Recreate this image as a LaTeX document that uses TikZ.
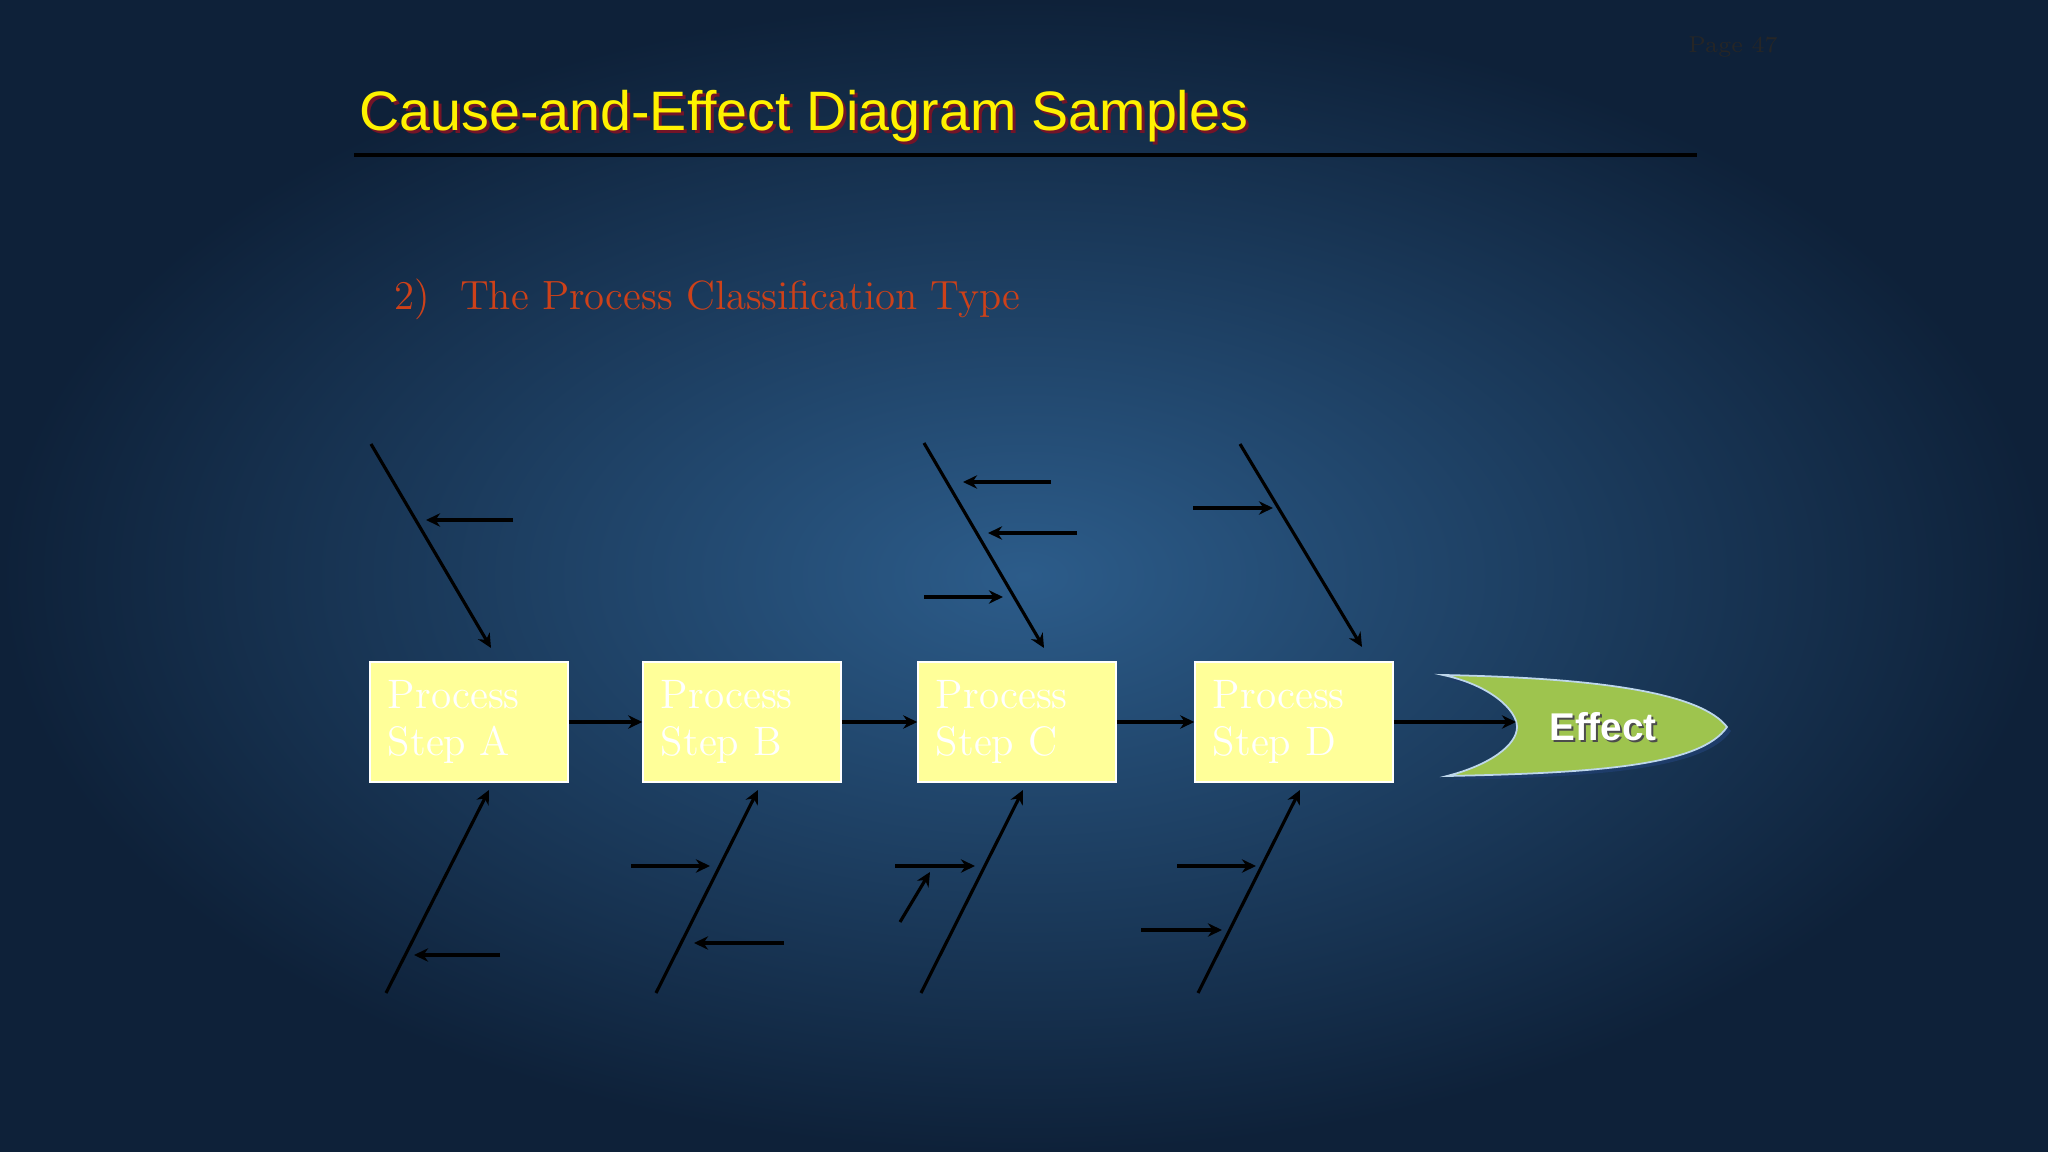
\documentclass[tikz,border=0pt]{standalone}
\usepackage{fontspec}
\newfontfamily\arialfont{Liberation Sans}
\usetikzlibrary{arrows.meta, positioning}

\definecolor{bginner}{RGB}{44,92,138}
\definecolor{bgouter}{RGB}{14,33,57}
\definecolor{stepfill}{RGB}{255,255,153}
\definecolor{effectgreen}{RGB}{158,196,78}
\definecolor{effectedge}{RGB}{190,215,235}
\definecolor{effectshade}{RGB}{30,60,105}
\definecolor{subred}{RGB}{205,65,25}
\definecolor{titleshadow}{RGB}{115,20,40}

\begin{document}
\begin{tikzpicture}[x=0.01cm, y=-0.01cm,
    stepbox/.style={draw=white, line width=0.4pt, fill=stepfill, text=white,
        minimum width=1.98cm, minimum height=1.2cm, text width=1.62cm,
        inner sep=0.18cm, align=left, font=\fontsize{11.7}{13.6}\selectfont},
    bone/.style={line width=0.9pt, -{Stealth[length=4pt, width=3.8pt]}},
    flow/.style={line width=1pt, -{Stealth[length=4pt, width=3.8pt]}}]
    % Background
    \useasboundingbox (0,0) rectangle (2048,1152);
    \shade[inner color=bginner, outer color=bgouter] (0,0) rectangle (2048,1152);

    % Heading
    \node[font=\fontsize{6.5}{8}\selectfont, text=black!85] (pagenum) at (1733,47) {Page 47};
    \node[anchor=west, inner sep=0, text=titleshadow,
        font=\arialfont\fontsize{15.8}{19}\selectfont] (titleshade) at (362,119) {Cause-and-Effect Diagram Samples};
    \node[anchor=west, inner sep=0, text=yellow,
        font=\arialfont\fontsize{15.8}{19}\selectfont] (title) at (359,116) {Cause-and-Effect Diagram Samples};
    \draw[line width=1.1pt, black] (354,155) -- (1697,155);
    \node[anchor=west, inner sep=0, text=subred, font=\fontsize{11.6}{13}\selectfont]
        (subtitle) at (394,299) {2)\hspace{8.5pt}The Process Classification Type};

    % Process steps
    \node[stepbox] (A) at (469,722) {Process\\Step A};
    \node[stepbox] (B) at (742,722) {Process\\Step B};
    \node[stepbox] (C) at (1017,722) {Process\\Step C};
    \node[stepbox] (D) at (1294,722) {Process\\Step D};

    % Effect head
    \fill[effectshade] (1447,679) .. controls (1600,682) and (1705,697) .. (1731,731)
        .. controls (1705,769) and (1600,777) .. (1451,780)
        .. controls (1494,769) and (1521,749) .. (1521,731)
        .. controls (1521,714) and (1494,689) .. cycle;
    \draw[effectedge, line width=0.5pt, fill=effectgreen] (1443,675) .. controls (1600,678) and (1701,693) .. (1727,727)
        .. controls (1701,765) and (1600,773) .. (1447,776)
        .. controls (1490,765) and (1517,745) .. (1517,727)
        .. controls (1517,710) and (1490,685) .. cycle;
    \coordinate (notch) at (1516,726);
    \node[text=black!70, font=\arialfont\bfseries\fontsize{11}{13}\selectfont] (effshade) at (1605,729) {Effect};
    \node[text=white, font=\arialfont\bfseries\fontsize{11}{13}\selectfont] (effect) at (1603,727) {Effect};

    % Main flow
    \draw[flow] (A) -- (B);
    \draw[flow] (B) -- (C);
    \draw[flow] (C) -- (D);
    \draw[flow] (D.east) -- (D.east -| notch);

    % Bones above the steps
    \foreach \n/\s/\e in {tA/{371,444}/{491,648}, tC/{924,443}/{1044,648}, tD/{1240,444}/{1362,647},
        bA/{386,993}/{489,790}, bB/{656,993}/{758,790}, bC/{921,993}/{1023,790}, bD/{1198,993}/{1300,790}}
        \draw[bone] (\s) coordinate (\n-s) -- (\e) coordinate (\n-e);

    % Sub-causes
    \foreach \n/\s/\e in {a1/{513,520}/{426,520}, c1/{1051,482}/{963,482}, c2/{1077,533}/{988,533},
        c3/{924,597}/{1003,597}, d1/{1193,508}/{1273,508},
        a2/{500,955}/{414,955}, b1/{631,866}/{710,866}, b2/{784,943}/{694,943},
        c4/{895,866}/{975,866}, c5/{900,922}/{930,872}, d2/{1177,866}/{1256,866}, d3/{1141,930}/{1222,930}}
        \draw[bone] (\s) coordinate (\n-s) -- (\e) coordinate (\n-e);
\end{tikzpicture}
\end{document}
